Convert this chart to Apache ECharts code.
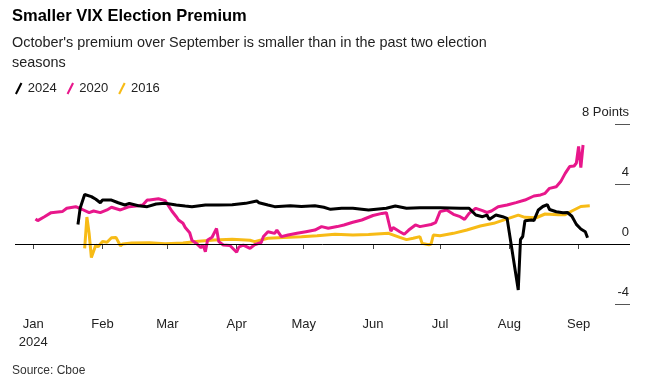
<!DOCTYPE html>
<html>
<head>
<meta charset="utf-8">
<script src="https://cdn.jsdelivr.net/npm/echarts@6/dist/echarts.min.js"></script>
<style>
html,body{margin:0;padding:0;background:#fff;}
#chart{width:645px;height:382px;}
</style>
</head>
<body>
<div id="chart"></div>
<script>
// ---- Data ----
const dates2024 = ['2024-01-21','2024-01-22','2024-01-24','2024-01-27','2024-01-29','2024-01-31','2024-02-01','2024-02-05','2024-02-08','2024-02-11','2024-02-13','2024-02-17','2024-02-21','2024-02-25','2024-02-29','2024-03-05','2024-03-09','2024-03-12','2024-03-18','2024-03-24','2024-03-30','2024-04-05','2024-04-10','2024-04-11','2024-04-15','2024-04-18','2024-04-25','2024-04-30','2024-05-06','2024-05-10','2024-05-13','2024-05-18','2024-05-23','2024-05-30','2024-06-07','2024-06-11','2024-06-16','2024-06-22','2024-07-01','2024-07-10','2024-07-14','2024-07-17','2024-07-20','2024-07-22','2024-07-23','2024-07-26','2024-07-29','2024-07-31','2024-08-05','2024-08-06','2024-08-07','2024-08-08','2024-08-11','2024-08-12','2024-08-14','2024-08-16','2024-08-18','2024-08-19','2024-08-22','2024-08-25','2024-08-27','2024-08-29','2024-08-31','2024-09-02','2024-09-04','2024-09-05'];
const values2024 = [1.3,2.4,3.3,3.16,2.98,2.75,2.93,2.93,2.75,2.6,2.71,2.55,2.49,2.67,2.71,2.6,2.53,2.49,2.6,2.6,2.62,2.71,2.87,2.75,2.6,2.49,2.55,2.5,2.55,2.45,2.31,2.38,2.38,2.27,2.38,2.53,2.38,2.42,2.42,2.38,2.38,1.93,1.82,1.93,1.64,1.93,1.82,1.71,-3.07,0.3,0.5,1.55,1.6,1.56,2.27,2.5,2.62,2.3,2.15,2.08,2.1,1.85,1.31,1.0,0.82,0.42];

const dates2020 = ['2024-01-02','2024-01-03','2024-01-06','2024-01-09','2024-01-14','2024-01-16','2024-01-20','2024-01-23','2024-01-26','2024-01-28','2024-01-31','2024-02-03','2024-02-05','2024-02-09','2024-02-13','2024-02-16','2024-02-19','2024-02-21','2024-02-22','2024-02-26','2024-02-29','2024-03-03','2024-03-05','2024-03-06','2024-03-08','2024-03-09','2024-03-11','2024-03-12','2024-03-14','2024-03-16','2024-03-17','2024-03-18','2024-03-19','2024-03-21','2024-03-23','2024-03-24','2024-03-26','2024-03-29','2024-04-01','2024-04-02','2024-04-04','2024-04-07','2024-04-09','2024-04-12','2024-04-13','2024-04-15','2024-04-18','2024-04-19','2024-04-21','2024-04-24','2024-04-28','2024-05-02','2024-05-06','2024-05-09','2024-05-12','2024-05-16','2024-05-19','2024-05-23','2024-05-27','2024-06-01','2024-06-05','2024-06-07','2024-06-09','2024-06-10','2024-06-13','2024-06-15','2024-06-17','2024-06-20','2024-06-22','2024-06-27','2024-06-29','2024-07-01','2024-07-04','2024-07-07','2024-07-10','2024-07-12','2024-07-14','2024-07-17','2024-07-20','2024-07-22','2024-07-24','2024-07-27','2024-07-31','2024-08-04','2024-08-08','2024-08-12','2024-08-15','2024-08-17','2024-08-19','2024-08-22','2024-08-24','2024-08-26','2024-08-28','2024-08-30','2024-08-31','2024-09-01','2024-09-02','2024-09-03'];
const values2020 = [1.67,1.56,1.82,2.09,2.16,2.38,2.49,2.3,2.09,2.2,2.09,2.27,2.45,2.27,2.49,2.53,2.6,2.93,2.93,3.02,2.89,2.2,1.82,1.6,1.38,1.1,0.75,0.25,0.04,-0.25,-0.07,-0.51,0.27,0.45,1.04,0.16,-0.07,-0.1,-0.55,-0.2,-0.07,-0.29,-0.05,0.1,0.5,0.82,0.71,0.93,0.49,0.6,0.71,0.82,0.93,1.16,1.05,1.16,1.27,1.45,1.6,1.9,2.04,2.09,0.85,1.1,0.82,0.65,0.93,1.27,1.16,1.3,1.42,2.16,2.27,1.98,1.82,1.64,2.04,2.38,2.22,2.1,2.2,2.49,2.6,2.76,2.93,3.2,3.27,3.38,3.71,3.82,4.16,4.71,5.16,5.2,5.4,6.5,5.1,6.6];

const dates2016 = ['2024-01-24','2024-01-25','2024-01-26','2024-01-27','2024-01-29','2024-01-30','2024-02-01','2024-02-03','2024-02-05','2024-02-07','2024-02-09','2024-02-10','2024-02-14','2024-02-22','2024-02-29','2024-03-08','2024-03-15','2024-03-22','2024-03-30','2024-04-07','2024-04-09','2024-04-15','2024-04-22','2024-04-30','2024-05-07','2024-05-15','2024-05-23','2024-05-30','2024-06-08','2024-06-13','2024-06-16','2024-06-19','2024-06-22','2024-06-23','2024-06-26','2024-06-27','2024-06-28','2024-07-01','2024-07-07','2024-07-13','2024-07-19','2024-07-25','2024-07-31','2024-08-05','2024-08-08','2024-08-13','2024-08-17','2024-08-23','2024-08-26','2024-08-29','2024-09-02','2024-09-06'];
const values2016 = [-0.29,1.8,0.71,-0.9,-0.07,-0.18,0.16,0.12,0.42,0.44,-0.12,0,0.06,0.09,0.02,0.06,0.18,0.27,0.31,0.25,0.16,0.38,0.44,0.49,0.55,0.65,0.6,0.64,0.71,0.44,0.29,0.38,0.49,0.04,-0.05,0.0,0.6,0.55,0.71,0.93,1.2,1.38,1.68,1.93,1.78,1.75,2.0,1.95,1.95,2.2,2.5,2.55];

const monthTicks = ['2024-01-01','2024-02-01','2024-03-01','2024-04-01','2024-05-01','2024-06-01','2024-07-01','2024-08-01','2024-09-01'];
const monthLabels = ['Jan\n2024','Feb','Mar','Apr','May','Jun','Jul','Aug','Sep'];
const yTicks = [-4, 0, 4, 8];
const yUnit = 'Points';

// ---- Build ----
function ts(s){ const p = s.split('-').map(Number); return Date.UTC(p[0], p[1]-1, p[2]); }
function pairs(d, v){ return d.map((x,i)=>[ts(x), v[i]]); }
const tickTs = monthTicks.map(ts);

const FONT = '"Liberation Sans", Arial, Helvetica, sans-serif';
const chart = echarts.init(document.getElementById('chart'), null, {renderer:'canvas'});

function slash(){ return 'path://M0,12 L6,0 L8,1 L2,13 Z'; }

chart.setOption({
  animation:false,
  backgroundColor:'#fff',
  textStyle:{fontFamily:FONT},
  title:[
    {text:'Smaller VIX Election Premium', left:7, top:3,
     textStyle:{fontFamily:FONT, fontSize:16.5, fontWeight:'bold', color:'#000'}},
    {text:"October's premium over September is smaller than in the past two election\nseasons", left:7, top:28,
     textStyle:{fontFamily:FONT, fontSize:14.4, fontWeight:'normal', color:'#222', lineHeight:20}},
    {text:'Source: Cboe', left:7, top:360,
     textStyle:{fontFamily:FONT, fontSize:12, fontWeight:'normal', color:'#333'}}
  ],
  legend:{
    left:10, top:77, itemWidth:8, itemHeight:12, itemGap:10,
    textStyle:{fontFamily:FONT, fontSize:13, color:'#222'},
    data:[
      {name:'2024', icon:slash()},
      {name:'2020', icon:slash()},
      {name:'2016', icon:slash()}
    ]
  },
  grid:{left:15, right:15, top:124, bottom:78, containLabel:false},
  xAxis:{
    type:'value',
    min: Date.UTC(2023,11,23,20),
    max: Date.UTC(2024,8,24,0),
    axisLine:{show:false},
    splitLine:{show:false},
    axisTick:{show:true, length:5, lineStyle:{color:'#444', width:1}, customValues:tickTs},
    axisLabel:{
      customValues:tickTs, margin:11, fontFamily:FONT, fontSize:13, color:'#222', lineHeight:18,
      align:'center', verticalAlign:'top', showMinLabel:true, showMaxLabel:true,
      formatter:function(v){ const i = tickTs.indexOf(v); return i>=0 ? monthLabels[i] : ''; }
    }
  },
  yAxis:{
    type:'value', position:'right', min:-4, max:8, interval:4,
    axisLine:{show:false},
    splitLine:{show:false},
    axisTick:{show:true, inside:true, length:15, lineStyle:{color:'#555', width:1}},
    axisLabel:{
      inside:true, margin:1, fontFamily:FONT, fontSize:13, color:'#222',
      verticalAlign:'bottom', padding:[0,0,5,0],
      formatter:function(v){ return v===yTicks[yTicks.length-1] ? v+' '+yUnit : String(v); }
    }
  },
  series:[
    {name:'2024', type:'line', data:pairs(dates2024, values2024), showSymbol:false,
     color:'#000', lineStyle:{width:3, color:'#000'}, z:4,
     markLine:{silent:true, symbol:['none','none'], label:{show:false},
       lineStyle:{color:'#000', width:1, type:'solid'}, data:[{yAxis:0}]}},
    {name:'2020', type:'line', data:pairs(dates2020, values2020), showSymbol:false,
     color:'#e8178b', lineStyle:{width:3, color:'#e8178b'}, z:3},
    {name:'2016', type:'line', data:pairs(dates2016, values2016), showSymbol:false,
     color:'#f7bb16', lineStyle:{width:3, color:'#f7bb16'}, z:2}
  ]
});
</script>
</body>
</html>
